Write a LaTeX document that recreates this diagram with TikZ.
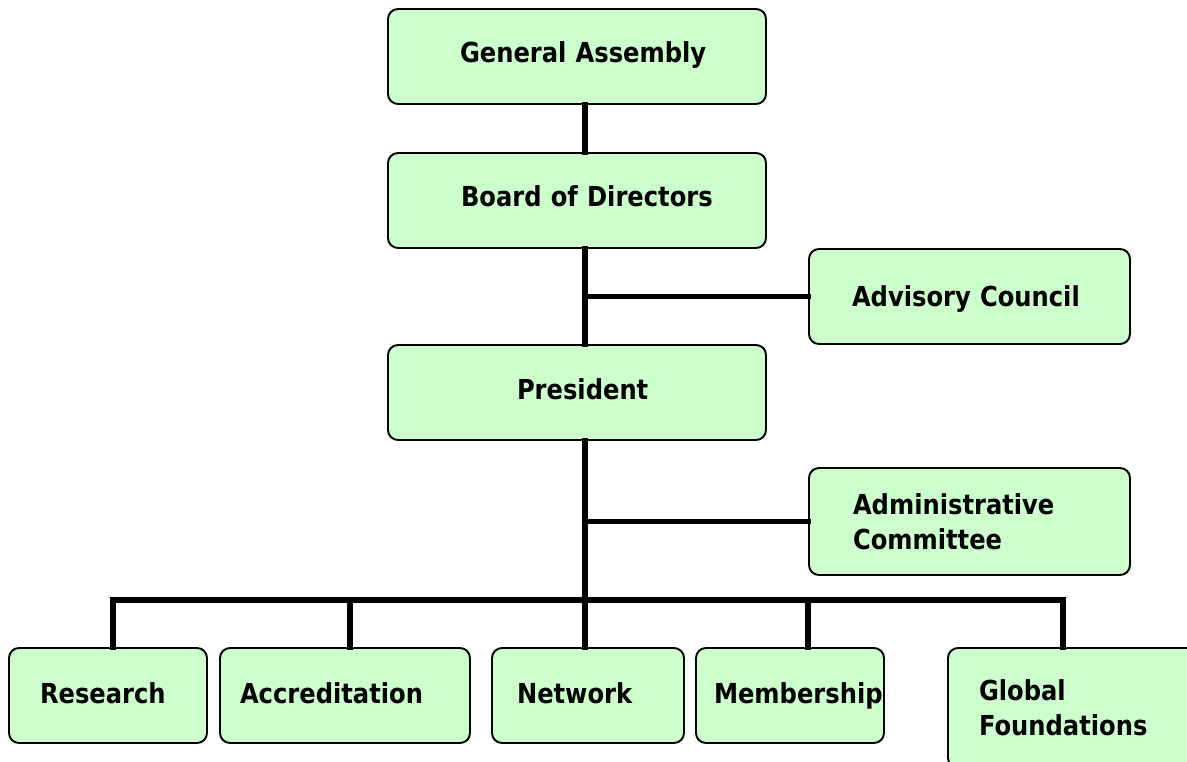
\documentclass[tikz,border=0pt]{standalone}
\usepackage{fontspec}
\setmainfont{DejaVu Sans}[FakeStretch=0.88]
\definecolor{boxgreen}{HTML}{CCFFCC}
\begin{document}
\begin{tikzpicture}[x=1pt,y=-1pt,
  box/.style={draw=black, line width=1.9pt, fill=boxgreen, rounded corners=10pt,
    align=left, font=\fontsize{27.5}{35}\selectfont\bfseries, inner ysep=0pt},
  one/.style={text height=20pt, text depth=0pt},
  up/.style={text height=13pt, text depth=0pt},
  low/.style={text height=16pt, text depth=0pt},
  wire/.style={line width=5.5pt, line cap=rect}]
\useasboundingbox (0,0) rectangle (1187,762);
\clip (0,0) rectangle (1187,762);
% main column (centre x, width 378, height 95)
\node[box,up, inner xsep=72pt, text width=234pt, minimum height=95pt] (ga) at (577,56.5) {\mbox{General Assembly}};
\node[box,up, inner xsep=73pt, text width=232pt, minimum height=95pt] (bod) at (577,200.5) {\mbox{Board of Directors}};
\node[box,up, inner xsep=129pt, text width=120pt, minimum height=95pt] (pres) at (577,392.5) {\mbox{President}};
% side boxes
\node[box,one, inner xsep=43pt, text width=235pt, minimum height=95pt] (adv) at (969.5,296.5) {\mbox{Advisory Council}};
\node[box, inner xsep=44pt, text width=233pt, minimum height=107pt] (adm) at (969.5,521.5) {Administrative\\Committee};
% bottom row
\node[box,low, inner xsep=31pt, text width=136pt, minimum height=95pt] (res) at (108,695.5) {\mbox{Research}};
\node[box,low, inner xsep=20pt, text width=210pt, minimum height=95pt] (acc) at (345,695.5) {\mbox{Accreditation}};
\node[box,low, inner xsep=25pt, text width=142pt, minimum height=95pt] (net) at (588,695.5) {\mbox{Network}};
\node[box,low, inner xsep=18pt, text width=152pt, minimum height=95pt] (mem) at (790,695.5) {\mbox{Membership}};
\node[box, inner xsep=31pt, text width=188pt, minimum height=120pt] (glo) at (1073,708) {Global\\Foundations};
% connectors
\coordinate (sp) at (585,0);
\coordinate (bus) at (0,600);
\coordinate (d1) at (113,600);
\coordinate (d2) at (350,600);
\coordinate (d3) at (585,600);
\coordinate (d4) at (808,600);
\coordinate (d5) at (1063,600);
\draw[wire] (ga.south -| sp) -- (bod.north -| sp);
\draw[wire] (bod.south -| sp) -- (pres.north -| sp);
\draw[wire] (pres.south -| sp) -- (d3);
\draw[wire] (adv.west) -- (adv.west -| sp);
\draw[wire] (adm.west) -- (adm.west -| sp);
\draw[wire] (d1) -- (d5);
\draw[wire] (d1) -- (d1 |- res.north);
\draw[wire] (d2) -- (d2 |- acc.north);
\draw[wire] (d3) -- (d3 |- net.north);
\draw[wire] (d4) -- (d4 |- mem.north);
\draw[wire] (d5) -- (d5 |- glo.north);
\end{tikzpicture}
\end{document}
